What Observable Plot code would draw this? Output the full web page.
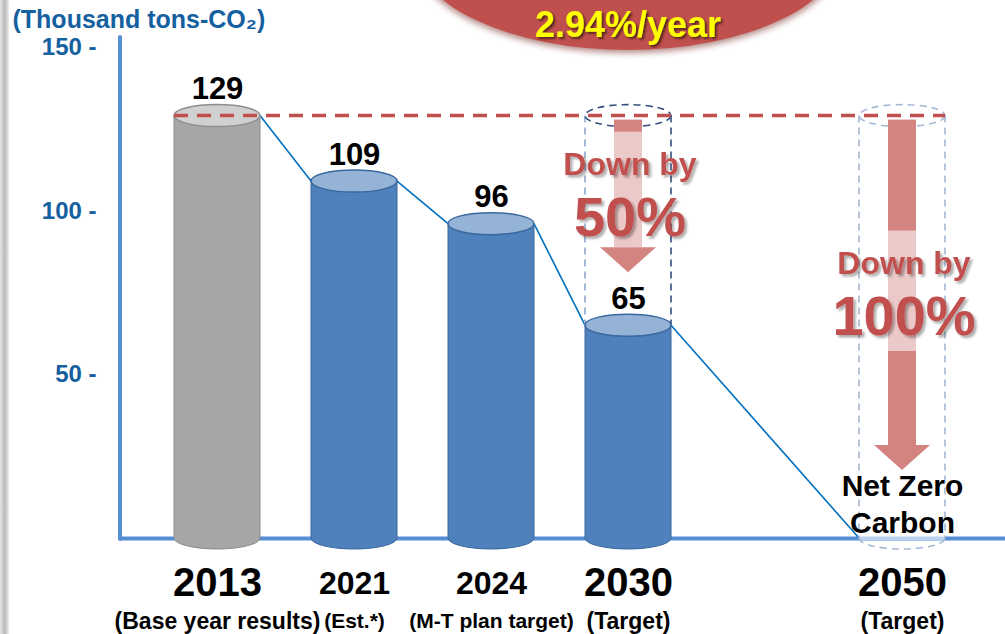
<!DOCTYPE html>
<html>
<head>
<meta charset="utf-8">
<script src="https://cdn.jsdelivr.net/npm/d3@7"></script>
<script src="https://cdn.jsdelivr.net/npm/@observablehq/plot@0.6"></script>
<style>
  html, body { margin: 0; padding: 0; background: #fff; }
  #chart svg { display: block; }
</style>
</head>
<body>
<div id="chart"></div>
<script>
// ---- Data ----
const years = ["2013", "2021", "2024", "2030", "2050"];
const values = [129, 109, 96, 65, 0];
const notes = ["(Base year results)", "(Est.*)", "(M-T plan target)", "(Target)", "(Target)"];
const yTicks = [50, 100, 150];
const baseYear = "2013";
const majorYears = ["2013", "2030", "2050"];
const reductionYears = ["2030", "2050"];
const reductionLabels = ["50%", "100%"];
const reductionPrefix = "Down by";
const rateLabel = "2.94%/year";
const rateYear = "2030";
const unitLabel = "(Thousand tons-CO₂)";
const netZeroLabel = ["Net Zero", "Carbon"];
const xDomain = ["2013", "2021", "2024", "2030", " ", "2050"];

const data = years.map((year, i) => ({year, value: values[i], note: notes[i]}));
const baseValue = values[years.indexOf(baseYear)];

// ---- Styles ----
const FONT = "'Liberation Sans', Arial, Helvetica, sans-serif";
const AXIS_BLUE = "#558ed5";
const TEXT_BLUE = "#15609f";
const RED = "#c0504d";
const ARROW_DARK = "#d38481";
const ARROW_LIGHT = "#ecc9c9";
const W = 86, RY = 11;

function defs() {
  const g = d3.create("svg:g");
  const d = g.append("defs");
  d.append("filter").attr("id", "blur4").attr("x", "-20%").attr("y", "-20%").attr("width", "140%").attr("height", "140%")
    .append("feGaussianBlur").attr("stdDeviation", 3);
  d.append("filter").attr("id", "tshadow").attr("x", "-10%").attr("y", "-20%").attr("width", "130%").attr("height", "150%")
    .append("feDropShadow").attr("dx", 2.5).attr("dy", 2.5).attr("stdDeviation", 1.3)
    .attr("flood-color", "#000").attr("flood-opacity", 0.32);
  d.append("filter").attr("id", "yshadow").attr("x", "-10%").attr("y", "-20%").attr("width", "130%").attr("height", "150%")
    .append("feDropShadow").attr("dx", 2).attr("dy", 2).attr("stdDeviation", 1.2)
    .attr("flood-color", "#3a1210").attr("flood-opacity", 0.8);
  const lg = d.append("linearGradient").attr("id", "edgeGrad").attr("x1", 0).attr("x2", 1).attr("y1", 0).attr("y2", 0);
  lg.append("stop").attr("offset", 0).attr("stop-color", "#e4e4e4");
  lg.append("stop").attr("offset", 0.55).attr("stop-color", "#b9b9b9");
  lg.append("stop").attr("offset", 1).attr("stop-color", "#efefef");
  return g.node();
}

function leftEdge(index, scales, values, dims) {
  const g = d3.create("svg:g");
  g.append("rect").attr("x", 0).attr("y", 0).attr("width", 9).attr("height", dims.height).attr("fill", "url(#edgeGrad)");
  return g.node();
}

function bubble(index, {x}) {
  const g = d3.create("svg:g");
  const cx = x(rateYear);
  g.append("ellipse").attr("cx", cx).attr("cy", -49).attr("rx", 216).attr("ry", 102)
    .attr("fill", "#7a2a27").attr("opacity", 0.55).attr("filter", "url(#blur4)");
  g.append("ellipse").attr("cx", cx).attr("cy", -52).attr("rx", 215).attr("ry", 102).attr("fill", RED);
  g.append("text").attr("x", cx).attr("y", 24).attr("dy", "0.35em")
    .attr("text-anchor", "middle").attr("font-family", FONT).attr("font-weight", "bold")
    .attr("font-size", 36).attr("fill", "#ffff00").attr("filter", "url(#yshadow)").text(rateLabel);
  return g.node();
}

function axisLine(index, scales, values, dims) {
  const g = d3.create("svg:g");
  g.append("line").attr("x1", dims.marginLeft).attr("x2", dims.marginLeft)
    .attr("y1", dims.marginTop).attr("y2", dims.height - dims.marginBottom + 1)
    .attr("stroke", AXIS_BLUE).attr("stroke-width", 4).attr("stroke-linecap", "round");
  return g.node();
}

function trend(index, {x, y}) {
  const g = d3.create("svg:g");
  for (let i = 0; i < data.length - 1; i++) {
    const a = data[i], b = data[i + 1];
    g.append("line")
      .attr("x1", x(a.year) + W / 2).attr("y1", y(a.value))
      .attr("x2", x(b.year) - W / 2).attr("y2", y(b.value))
      .attr("stroke", "#0070c0").attr("stroke-width", 1.6);
  }
  return g.node();
}

function ghosts(index, {x, y}) {
  const g = d3.create("svg:g");
  reductionYears.forEach(yr => {
    const v = values[years.indexOf(yr)];
    const cx = x(yr), yt = y(baseValue), yb = y(v);
    const final = v === 0;
    const cL = final ? "#a3b8d3" : "#8ea8cb";
    const cR = final ? "#a3b8d3" : "#34507d";
    const dash = "7,5";
    if (final) {
      g.append("rect").attr("x", cx - W / 2).attr("y", yb - 2).attr("width", W).attr("height", 4)
        .attr("fill", "#ffffff").attr("opacity", 0.6);
      g.append("path").attr("d", `M${cx - W / 2},${yb}A${W / 2},${RY} 0 0 0 ${cx + W / 2},${yb}`)
        .attr("fill", "none").attr("stroke", cL).attr("stroke-width", 1.6).attr("stroke-dasharray", dash);
    }
    g.append("line").attr("x1", cx - W / 2).attr("x2", cx - W / 2).attr("y1", yt).attr("y2", yb)
      .attr("stroke", cL).attr("stroke-width", 1.6).attr("stroke-dasharray", dash);
    g.append("line").attr("x1", cx + W / 2).attr("x2", cx + W / 2).attr("y1", yt).attr("y2", yb)
      .attr("stroke", cR).attr("stroke-width", 1.6).attr("stroke-dasharray", dash);
    g.append("ellipse").attr("cx", cx).attr("cy", yt).attr("rx", W / 2).attr("ry", RY)
      .attr("fill", "none").attr("stroke", cR).attr("stroke-width", 1.6).attr("stroke-dasharray", dash);
  });
  return g.node();
}

function cylinders(index, {x, y}) {
  const g = d3.create("svg:g");
  data.forEach(d => {
    if (d.value <= 0) return;
    const cx = x(d.year), yt = y(d.value), yb = y(0);
    const base = d.year === baseYear;
    const body = base ? "#a6a6a6" : "#4f81bd";
    const top = base ? "#d0d0d0" : "#95b3d7";
    const edge = base ? "#8c8c8c" : "#3a679e";
    g.append("path")
      .attr("d", `M${cx - W / 2},${yt}V${yb}A${W / 2},${RY} 0 0 0 ${cx + W / 2},${yb}V${yt}Z`)
      .attr("fill", body).attr("stroke", edge).attr("stroke-width", 1);
    g.append("ellipse").attr("cx", cx).attr("cy", yt).attr("rx", W / 2).attr("ry", RY)
      .attr("fill", top).attr("stroke", edge).attr("stroke-width", 1.5);
  });
  return g.node();
}

function baseLine(index, {x, y}) {
  const g = d3.create("svg:g");
  g.append("line")
    .attr("x1", x(baseYear) - W / 2).attr("x2", x(years[years.length - 1]) + W / 2)
    .attr("y1", y(baseValue)).attr("y2", y(baseValue))
    .attr("stroke", RED).attr("stroke-width", 3.5).attr("stroke-dasharray", "14,9");
  return g.node();
}

function arrows(index, {x, y}) {
  const g = d3.create("svg:g");
  reductionYears.forEach((yr, i) => {
    const v = values[years.indexOf(yr)];
    const cx = x(yr);
    const y0 = y(baseValue) + 4;
    const tip = v === 0 ? y(0) - 68 : y(v) - 53;
    const headLen = 25, sh = 14, hh = 28;
    const hs = tip - headLen;
    const mid = (y0 + tip) / 2 - 4;
    const l0 = Math.max(y0, mid - 60), l1 = Math.min(hs, mid + 60);
    g.append("rect").attr("x", cx - sh).attr("y", y0).attr("width", 2 * sh).attr("height", l0 - y0).attr("fill", ARROW_DARK);
    g.append("rect").attr("x", cx - sh).attr("y", l0).attr("width", 2 * sh).attr("height", l1 - l0).attr("fill", ARROW_LIGHT);
    if (hs > l1) g.append("rect").attr("x", cx - sh).attr("y", l1).attr("width", 2 * sh).attr("height", hs - l1).attr("fill", ARROW_DARK);
    g.append("path").attr("d", `M${cx - hh},${hs}L${cx + hh},${hs}L${cx},${tip}Z`).attr("fill", ARROW_DARK);
    const txt = (s, ty, size) => {
      g.append("text").attr("x", cx + 2).attr("y", ty).attr("dy", "0.35em").attr("text-anchor", "middle")
        .attr("font-family", FONT).attr("font-weight", "bold").attr("font-size", size)
        .attr("fill", RED).attr("filter", "url(#tshadow)").text(s);
    };
    txt(reductionPrefix, mid - 28, 32);
    txt(reductionLabels[i], mid + 25, 56);
  });
  return g.node();
}

const lastYear = years[years.length - 1];
const noteSize = {"2013": 23, "2021": 21, "2024": 21};

const chart = Plot.plot({
  width: 1005,
  height: 634,
  marginLeft: 120,
  marginRight: 0,
  marginTop: 37,
  marginBottom: 96,
  style: {fontFamily: FONT, background: "#fff"},
  x: {type: "point", domain: xDomain, range: [216, 903], padding: 0, axis: null},
  y: {domain: [0, 153]},
  marks: [
    defs,
    leftEdge,
    bubble,
    Plot.ruleY([0], {stroke: AXIS_BLUE, strokeWidth: 4}),
    axisLine,
    Plot.axisY(yTicks, {
      tickSize: 0, tickPadding: 24, tickFormat: d => `${d} -`,
      fontSize: 24, fontWeight: "bold", fill: TEXT_BLUE, color: TEXT_BLUE, label: null, fontFamily: FONT
    }),
    Plot.text([unitLabel], {
      frameAnchor: "top-left", dx: -108, dy: -18, textAnchor: "start", lineAnchor: "middle",
      fontSize: 25, fontWeight: "bold", fill: TEXT_BLUE, fontFamily: FONT
    }),
    trend,
    ghosts,
    cylinders,
    baseLine,
    arrows,
    Plot.text(data.filter(d => d.value > 0), {
      x: "year", y: "value", text: d => String(d.value), dy: -27, lineAnchor: "middle",
      fontSize: 31, fontWeight: "bold", fill: "#000", fontFamily: FONT
    }),
    Plot.text([netZeroLabel.join("\n")], {
      x: () => lastYear, frameAnchor: "bottom", dy: -36, lineAnchor: "middle", lineHeight: 1.24,
      text: d => d, fontSize: 30, fontWeight: "bold", fill: "#000", fontFamily: FONT
    }),
    Plot.text(data, {
      x: "year", text: "year", frameAnchor: "bottom", dy: 45, lineAnchor: "middle",
      fontSize: d => majorYears.includes(d.year) ? 40 : 32, fontWeight: "bold", fill: "#000", fontFamily: FONT
    }),
    Plot.text(data, {
      x: "year", text: "note", frameAnchor: "bottom", dy: 83, lineAnchor: "middle",
      fontSize: d => noteSize[d.year] ?? 23,
      fontWeight: "bold", fill: "#000", fontFamily: FONT
    })
  ]
});
document.getElementById("chart").appendChild(chart);
</script>
</body>
</html>
